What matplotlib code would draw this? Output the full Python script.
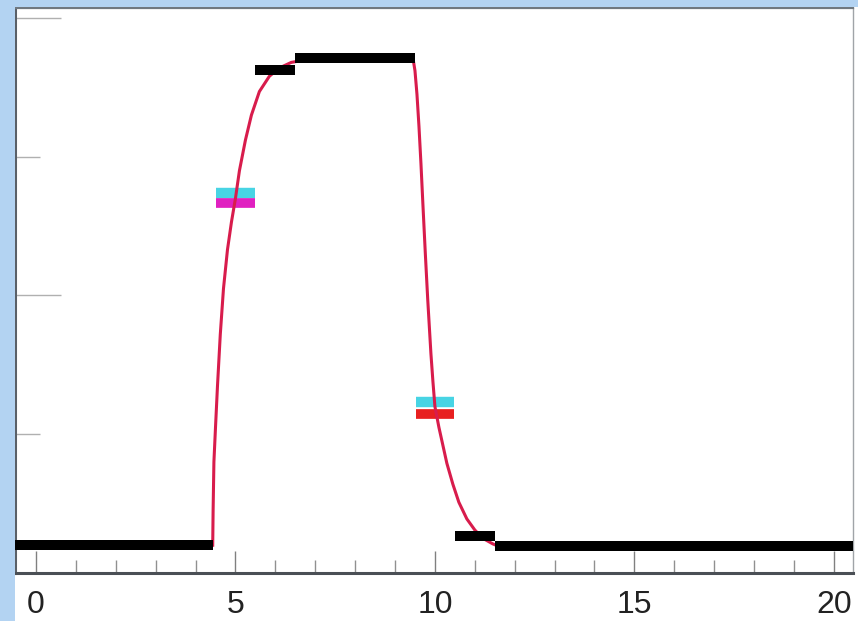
import matplotlib
matplotlib.use("Agg")
import matplotlib.pyplot as plt
from matplotlib.patches import Rectangle

# Cell-average bars (black): left edge, right edge, level
bar_lo = [-0.53, 5.5, 6.5, 10.5, 11.5]
bar_hi = [4.43, 6.5, 9.5, 11.5, 20.48]
bar_y = [0.20, 3.625, 3.71, 0.267, 0.195]

# Computed profile (red curve): rising front and falling front
rise_x = [4.43, 4.44, 4.46, 4.50, 4.55, 4.62, 4.70, 4.80, 4.90, 5.00, 5.10,
          5.25, 5.40, 5.60, 5.85, 6.10, 6.40, 6.80, 7.20]
rise_y = [0.20, 0.45, 0.80, 1.05, 1.35, 1.72, 2.05, 2.33, 2.53, 2.70, 2.90,
          3.12, 3.30, 3.47, 3.58, 3.64, 3.68, 3.70, 3.71]
fall_x = [9.45, 9.50, 9.55, 9.60, 9.65, 9.70, 9.76, 9.82, 9.90, 9.95, 10.00,
          10.10, 10.20, 10.30, 10.45, 10.60, 10.80, 11.00, 11.20, 11.45,
          11.70, 12.00, 12.30]
fall_y = [3.71, 3.62, 3.45, 3.22, 2.95, 2.65, 2.30, 1.97, 1.58, 1.38, 1.20,
          1.05, 0.92, 0.79, 0.64, 0.51, 0.39, 0.31, 0.25, 0.21,
          0.18, 0.17, 0.17]

# Reference points at x = 5 and x = 10 (upper cyan, lower coloured)
mark_x = [5.0, 10.0]
mark_upper = [2.74, 1.23]
mark_lower = [2.67, 1.146]
lower_colors = ["#e020c0", "#e82020"]

xticks_major = [0, 5, 10, 15, 20]
xticks_minor = list(range(0, 21))

fig = plt.figure(figsize=(8.58, 6.21), dpi=100, facecolor="white")
blue = "#b3d3f2"
fig.patches.append(Rectangle((0, 0), 15 / 858, 1, transform=fig.transFigure,
                             facecolor=blue, edgecolor="none", zorder=0))
fig.patches.append(Rectangle((0, 1 - 7 / 621), 1, 7 / 621, transform=fig.transFigure,
                             facecolor=blue, edgecolor="none", zorder=0))

ax = fig.add_axes([15 / 858, 1 - 573 / 621, (853 - 15) / 858, (573 - 8) / 621])
ax.set_xlim(-0.526, 20.48)
ax.set_ylim(0, 4.072)

# markers under the curve
half_w = 0.48
for x, yu, yl, c in zip(mark_x, mark_upper, mark_lower, lower_colors):
    ax.hlines(yu, x - half_w, x + half_w, colors="#48d4e4", linewidth=7.5,
              zorder=1.5)
    ax.hlines(yl, x - half_w, x + half_w, colors=c, linewidth=7.0, zorder=1.6)

ax.plot(rise_x, rise_y, color="#d81c4c", linewidth=2.2, zorder=2)
ax.plot(fall_x, fall_y, color="#d81c4c", linewidth=2.2, zorder=2)

ax.hlines(bar_y, bar_lo, bar_hi, colors="black", linewidth=7.2, zorder=3,
          capstyle="butt")

# axis styling
for side, col, lw in [("left", "#5a6068", 2.2), ("bottom", "#4a4f55", 2.2),
                      ("top", "#707880", 1.6), ("right", "#a0a4a8", 1.0)]:
    ax.spines[side].set_color(col)
    ax.spines[side].set_linewidth(lw)

ax.set_xticks(xticks_major)
ax.set_xticks(xticks_minor, minor=True)
ax.set_xticklabels([str(t) for t in xticks_major])
ax.set_yticks([0, 2, 4])
ax.set_yticks([1, 3], minor=True)
ax.set_yticklabels([])
ax.tick_params(axis="x", which="major", direction="in", length=16, width=1.0,
               color="#808080", pad=12, labelsize=23, labelcolor="#222222")
ax.tick_params(axis="x", which="minor", direction="in", length=9.5, width=1.0,
               color="#909090")
ax.tick_params(axis="y", which="major", direction="in", length=33, width=1.0,
               color="#b0b0b0")
ax.tick_params(axis="y", which="minor", direction="in", length=18, width=1.0,
               color="#b0b0b0")
for lab in ax.get_xticklabels():
    lab.set_family(["Liberation Sans", "DejaVu Sans"])

fig.savefig("out.png", dpi=100, facecolor="white")
